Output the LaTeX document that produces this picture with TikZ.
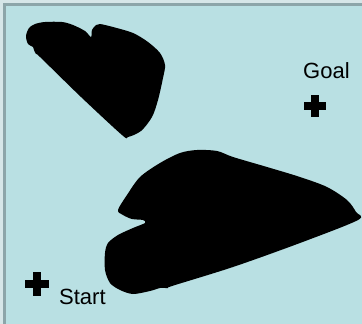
\documentclass[tikz,border=0pt]{standalone}
\usepackage{fontspec}
\setmainfont{Liberation Sans}
\usepackage{tikz}
\usetikzlibrary{positioning}
\definecolor{water}{HTML}{B9E0E3}
\definecolor{rim}{HTML}{8CA5A9}
\definecolor{rimlight}{HTML}{D6E6E8}

\begin{document}
\begin{tikzpicture}[x=1pt,y=-1pt]
\useasboundingbox (0,0) rectangle (362,324);

% 1. Nur die Koordinaten definieren
\coordinate (c0) at (0,0);
\coordinate (c1) at (362,324);
\coordinate (s) at (37,284);
\coordinate (g) at (315,106);

% 2. Stile definieren
\tikzset{
  marker label/.style={
    inner sep=0pt,
    font=\fontsize{22}{26}\selectfont
  },
  rim line/.style={
    rim,
    line width=3pt
  }
}

% 3. Hintergrund und Rand
\fill [water] (c0) rectangle (c1);
\fill [rimlight] (0,0) rectangle (362,3);
\fill [rimlight] (0,0) rectangle (3,324);
\draw [rim line] (4.5,324) -- (4.5,4.5) -- (362,4.5);

% 4. Hindernisse
\fill [black] plot [smooth cycle, tension=0.5] coordinates {
  (26,36) (29,28) (35,24) (45,22) (62,22) (73,25) (85,31) (91,37)
  (92,30) (96,25) (100,24) (113,27) (133,33) (148,42) (160,53)
  (165,65) (163,78) (158,100) (152,117) (141,131) (128,137) (122,135)
  (81,97) (40,57) (36,54) (34,50) (33,47) (28,44)};
\fill [black] plot [smooth cycle, tension=0.5] coordinates {
  (118,210) (127,195) (140,177) (160,163) (180,153) (197,150) (217,151)
  (233,157) (267,167) (300,177) (327,187) (347,200) (356,212) (358,220)
  (300,243) (233,267) (172,286) (168,288) (160,288) (150,291) (133,294)
  (120,290) (110,283) (105,270) (105,253) (108,243) (118,235) (133,228)
  (145,223) (143,220) (132,219) (123,215)};

% 5. Start und Ziel
\fill ([xshift=-12pt,yshift=-4pt]s) rectangle ([xshift=12pt,yshift=4pt]s);
\fill ([xshift=-4pt,yshift=-12pt]s) rectangle ([xshift=4pt,yshift=12pt]s);
\fill ([xshift=-11pt,yshift=-4pt]g) rectangle ([xshift=11pt,yshift=4pt]g);
\fill ([xshift=-4pt,yshift=-11pt]g) rectangle ([xshift=4pt,yshift=11pt]g);

\node [marker label, anchor=base west] (start) at (59,304) {Start};
\node [marker label, anchor=base west] (goal) at (303,78) {Goal};

\end{tikzpicture}
\end{document}
